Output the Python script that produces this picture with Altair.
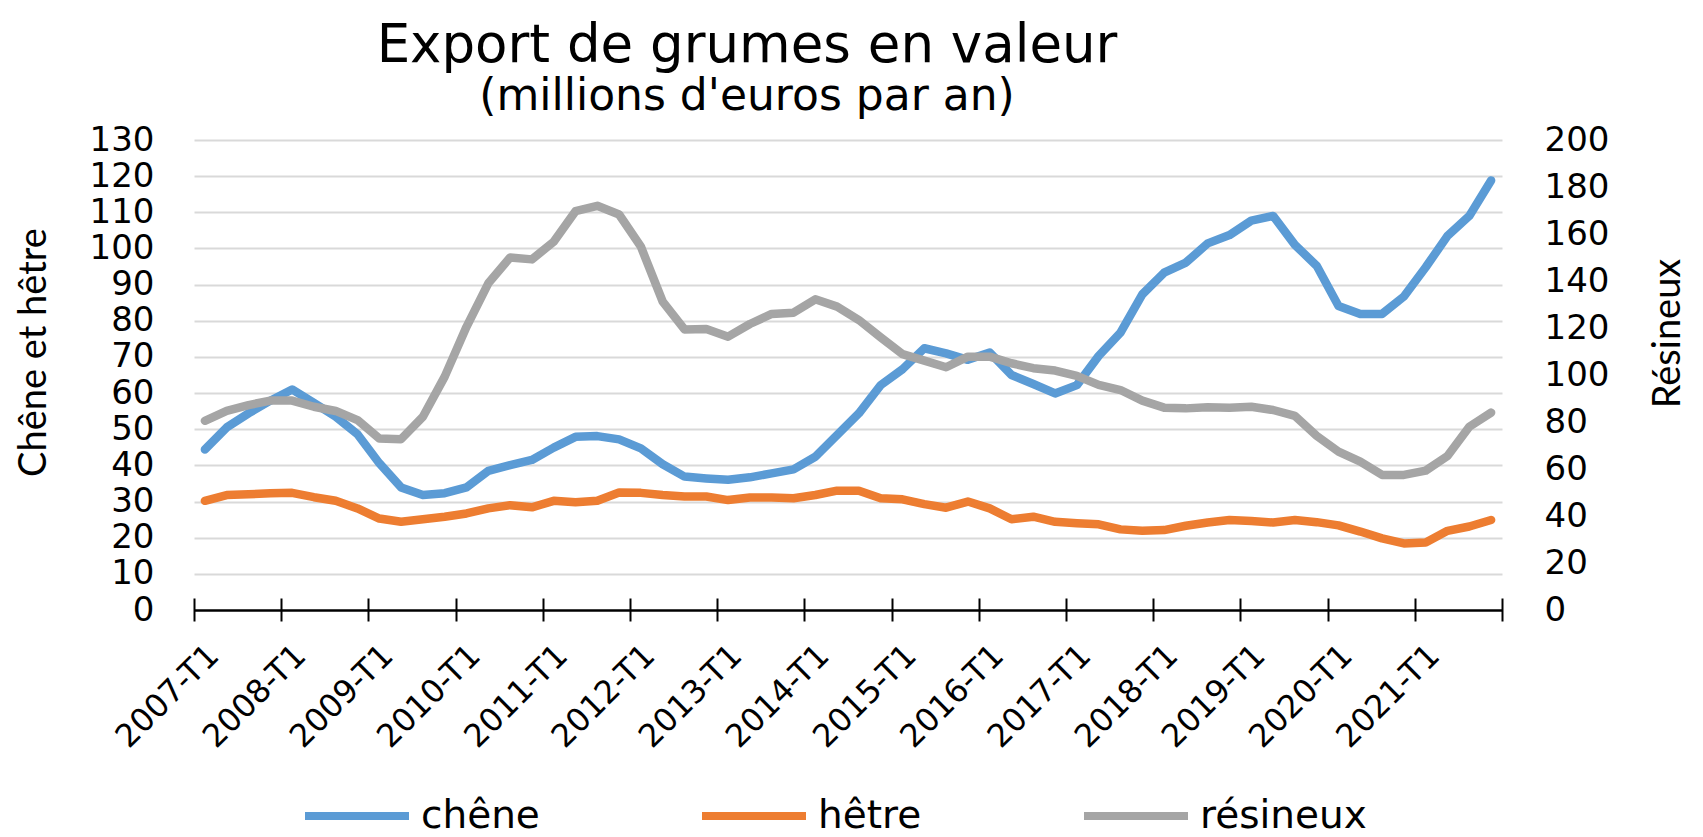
import json
import altair as alt
import pandas as pd

quarters = [f"{y}-T{q}" for y in range(2007, 2022) for q in range(1, 5)]
tick_labels = [f"{y}-T1" for y in range(2007, 2022)] + [""]

chene = [44.4, 50.5, 54.4, 57.9, 61.0, 57.3, 53.5, 48.6, 40.6, 33.9, 31.8, 32.3,
         33.9, 38.5, 40.1, 41.5, 44.9, 47.9, 48.1, 47.2, 44.7,
         40.3, 36.9, 36.4, 36.0, 36.7, 37.8, 38.9, 42.4, 48.4, 54.4, 62.2, 66.6,
         72.4, 71.0, 69.2, 71.2, 65.0, 62.5, 59.9, 62.2, 70.3,
         76.7, 87.3, 93.3, 96.1, 101.4, 103.7, 107.7, 109.0, 101.0, 95.2, 84.1,
         81.9, 81.9, 86.7, 94.8, 103.5, 109.0, 118.8]
hetre = [30.2, 31.8, 32.0, 32.3, 32.4, 31.2, 30.2, 28.1, 25.3, 24.4, 25.1, 25.8,
         26.7, 28.1, 29.0, 28.4, 30.2, 29.8, 30.2, 32.5, 32.4,
         31.8, 31.4, 31.4, 30.4, 31.1, 31.1, 30.9, 31.8, 33.0, 33.0, 30.9, 30.6,
         29.3, 28.3, 30.0, 28.1, 25.1, 25.8, 24.4, 24.0, 23.7,
         22.3, 21.9, 22.1, 23.3, 24.2, 24.9, 24.6, 24.2, 24.9, 24.3, 23.4, 21.7,
         19.8, 18.4, 18.7, 21.9, 23.1, 24.9]
resineux = [80.5, 84.7, 87.2, 89.1, 89.1, 86.5, 84.7, 80.8, 73.0, 72.7, 82.2, 99.3,
            120.5, 139.0, 150.0, 149.2, 156.7, 169.7, 172.0, 168.3, 154.6,
            131.2, 119.4, 119.6, 116.3, 121.7, 126.0, 126.5, 132.2, 129.1, 123.4,
            116.0, 108.9, 106.1, 103.3, 107.8, 107.8, 105.0, 102.9, 101.9, 99.6, 95.8,
            93.6, 89.1, 86.1, 85.8, 86.3, 86.1, 86.5, 85.1, 82.6, 74.1, 67.4, 63.1,
            57.5, 57.5, 59.3, 65.5, 78.0, 84.0]

series_names = ["chêne", "hêtre", "résineux"]
series_colors = ["#5B9BD5", "#ED7D31", "#A5A5A5"]
left_ticks = list(range(0, 131, 10))
right_ticks = list(range(0, 201, 20))

rows = []
for name, vals in zip(series_names, [chene, hetre, resineux]):
    for i, (q, v) in enumerate(zip(quarters, vals)):
        rows.append({"serie": name, "trimestre": q, "idx": i, "valeur": v})
df = pd.DataFrame(rows)
df_left = df[df["serie"] != "résineux"]
df_right = df[df["serie"] == "résineux"]

x_enc = alt.X(
    "idx:Q",
    scale=alt.Scale(domain=[-0.5, len(quarters) - 0.5], nice=False, zero=False),
    axis=alt.Axis(
        values=[k * 4 - 0.5 for k in range(len(tick_labels))],
        labelExpr=f"{json.dumps(tick_labels)}[round((datum.value + 0.5) / 4)]",
        domain=False, grid=False, title=None,
        offset=-12, tickSize=23, tickWidth=2, tickColor="black",
        labelAngle=-45, labelAlign="right", labelBaseline="middle",
        labelOffset=19, labelPadding=29, labelFont="DejaVu Sans",
        labelFontSize=32, labelColor="black", labelFlush=False,
        labelOverlap=False, labelBound=False,
    ),
)

color_enc = alt.Color(
    "serie:N",
    scale=alt.Scale(domain=series_names, range=series_colors),
    legend=alt.Legend(
        orient="none", legendX=107, legendY=620, direction="horizontal",
        title=None, symbolType="stroke", symbolSize=104 * 104,
        symbolStrokeWidth=8, symbolOpacity=1, labelFont="DejaVu Sans",
        labelFontSize=39, labelColor="black", labelOffset=8,
        columnPadding=146, padding=0, labelLimit=0,
    ),
)

line_style = dict(strokeWidth=8.5, strokeJoin="round", strokeCap="round")

left = alt.Chart(df_left).mark_line(**line_style).encode(
    x=x_enc,
    y=alt.Y(
        "valeur:Q",
        scale=alt.Scale(domain=[0, 130], nice=False),
        axis=alt.Axis(
            values=left_ticks, grid=True,
            gridColor={"condition": {"test": "datum.value === 0", "value": "black"}, "value": "#D9D9D9"},
            gridWidth={"condition": {"test": "datum.value === 0", "value": 2.5}, "value": 2},
            domain=False, ticks=False, labelFont="DejaVu Sans", labelFontSize=34,
            labelColor="black", labelPadding=40, labelOverlap=False,
            title="Chêne et hêtre", titleFont="Lato", titleFontSize=38,
            titleFontWeight="normal", titleColor="black", titleAngle=-90,
            titleX=-160, titleY=212, titleAlign="center", titleBaseline="middle",
        ),
    ),
    color=color_enc,
    order="idx:Q",
)

right = alt.Chart(df_right).mark_line(**line_style).encode(
    x=x_enc,
    y=alt.Y(
        "valeur:Q",
        scale=alt.Scale(domain=[0, 200], nice=False),
        axis=alt.Axis(
            orient="right", values=right_ticks, grid=False, domain=False,
            ticks=False, labelFont="DejaVu Sans", labelFontSize=34,
            labelColor="black", labelPadding=42, labelAlign="left",
            labelOverlap=False,
            title="Résineux", titleFont="Lato", titleFontSize=38,
            titleFontWeight="normal", titleColor="black", titleAngle=-90,
            titleX=166, titleY=193, titleAlign="center", titleBaseline="middle",
        ),
    ),
    color=color_enc,
    order="idx:Q",
)

chart = (
    alt.layer(left, right)
    .resolve_scale(y="independent")
    .properties(
        width=1308,
        height=470,
        title=alt.TitleParams(
            text="Export de grumes en valeur",
            subtitle="(millions d'euros par an)",
            font="DejaVu Sans", fontSize=53, fontWeight="normal", color="black",
            subtitleFont="DejaVu Sans", subtitleFontSize=44, subtitleColor="black",
            anchor="middle", frame="group", dx=-101, offset=4, subtitlePadding=2,
        ),
        autosize=alt.AutoSizeParams(type="none"),
        padding={"left": 186, "top": 132, "right": 190, "bottom": 226},
    )
    .configure_view(stroke=None)
)

chart.save("out.html", embed_options={"renderer": "svg", "actions": False})
